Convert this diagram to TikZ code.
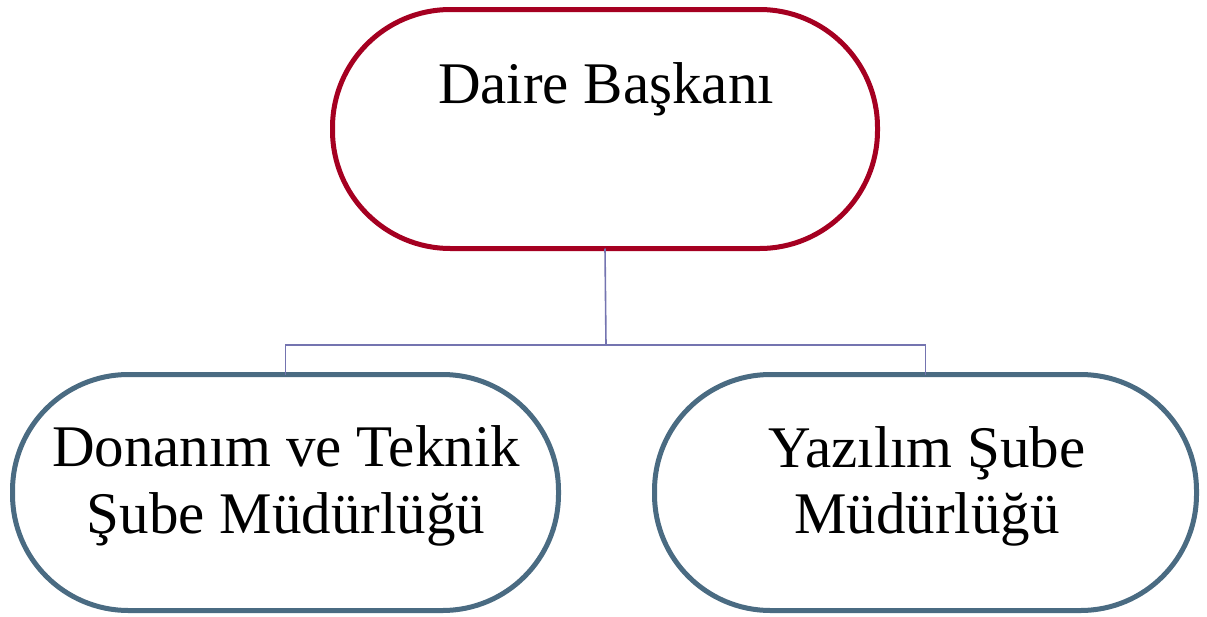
\documentclass[tikz,border=0pt]{standalone}
\usepackage{fontspec}
\setmainfont{Liberation Serif}
\definecolor{topred}{HTML}{A50021}
\definecolor{subblue}{HTML}{4A6B82}
\definecolor{linkc}{HTML}{7474B0}
\begin{document}
\begin{tikzpicture}[x=1pt,y=1pt,
  topbox/.style={draw=topred, line width=5pt, rounded corners=118pt, fill=white},
  subbox/.style={draw=subblue, line width=5pt, rounded corners=116pt, fill=white},
  lbl/.style={font=\fontsize{59}{67}\selectfont, align=center, inner sep=0pt},
  link/.style={draw=linkc, line width=1.6pt}]
\useasboundingbox (0,0) rectangle (1207,-616);
\node[topbox, minimum width=545pt, minimum height=239pt, inner sep=0pt, outer sep=0pt] (top) at (605,-129) {};
\node[subbox, minimum width=546pt, minimum height=236pt, inner sep=0pt, outer sep=0pt] (left) at (285.5,-492.5) {};
\node[subbox, minimum width=542pt, minimum height=236pt, inner sep=0pt, outer sep=0pt] (right) at (925.5,-492.5) {};
\node[lbl, anchor=base] (ttop) at (606,-103) {Daire Başkanı};
\node[lbl, anchor=base] (tleft) at (286,-466) {Donanım ve Teknik};
\node[lbl, anchor=base] (tleft2) at (286,-533) {Şube Müdürlüğü};
\node[lbl, anchor=base] (tright) at (927,-467) {Yazılım Şube};
\node[lbl, anchor=base] (tright2) at (927,-533) {Müdürlüğü};
\coordinate (hub) at (606,-345);
\draw[link] (top.south) -- (hub);
\draw[link] (hub) -| (left.north);
\draw[link] (hub) -| (right.north);
\end{tikzpicture}
\end{document}
